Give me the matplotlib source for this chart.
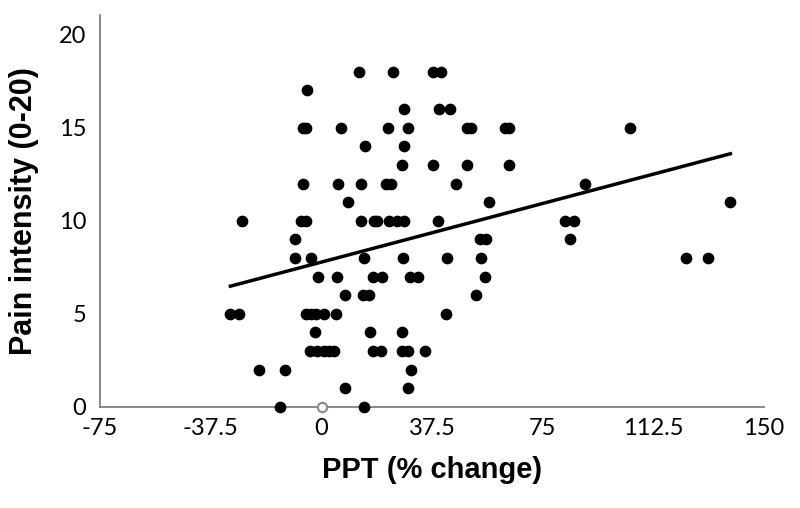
import matplotlib
matplotlib.use("Agg")
import matplotlib.pyplot as plt
import numpy as np

# PPT % change vs pain intensity
ppt = [12.8, 24.2, 37.9, 40.7,
       -4.8,
       27.9, 40.0, 43.5,
       -6.2, -5.2, 6.7, 22.7, 29.5, 49.2, 50.6, 62.4, 63.6, 104.6,
       14.9, 28.0,
       27.5, 37.7, 49.3, 63.6,
       -6.3, 5.7, 13.3, 22.0, 23.6, 45.6, 89.2,
       9.0, 56.7, 138.6,
       -27.0, -6.8, -5.3, 13.4, 17.7, 18.9, 22.8, 25.5, 27.9, 39.5, 82.5, 85.5,
       -8.8, 53.6, 55.9, 84.4,
       -9.0, -3.6, 14.6, 27.8, 42.7, 54.2, 123.6, 131.0,
       -1.0, 5.3, 17.4, 20.7, 30.1, 32.8, 55.3,
       8.0, 14.1, 16.0, 52.5,
       -30.8, -27.9, -5.1, -3.4, -1.8, 1.0, 4.9, 42.1,
       -2.1, 16.4, 27.2,
       -3.7, -1.3, 0.9, 2.5, 4.2, 17.4, 20.3, 27.4, 29.3, 35.0,
       -21.0, -12.3, 30.3,
       8.0, 29.4,
       -14.1, 14.3]
pain = ([18] * 4 + [17] + [16] * 3 + [15] * 10 + [14] * 2 + [13] * 4 +
        [12] * 7 + [11] * 3 + [10] * 12 + [9] * 4 + [8] * 8 + [7] * 7 +
        [6] * 4 + [5] * 8 + [4] * 3 + [3] * 10 + [2] * 3 + [1] * 2 + [0] * 2)

# the grey open point on the origin
open_x = [0.2]
open_y = [0]

# regression line as drawn
fit_slope = 0.042
fit_intercept = 7.78

xticks = [-75, -37.5, 0, 37.5, 75, 112.5, 150]
xticklabels = ["-75", "-37.5", "0", "37.5", "75", "112.5", "150"]
yticks = [0, 5, 10, 15, 20]

fig = plt.figure(figsize=(8, 5.08), dpi=100)
ax = fig.add_axes([0.125, 0.199, 0.83, 0.772])

ax.scatter(ppt, pain, s=55, color="black", zorder=3, clip_on=False)
ax.scatter(open_x, open_y, s=45, facecolor="white", edgecolor="#888888",
           linewidth=1.5, zorder=4, clip_on=False)

xs = np.array([min(ppt), max(ppt)])
ax.plot(xs, fit_intercept + fit_slope * xs, color="black", lw=2.5, zorder=2)

ax.set_xlim(-75, 150)
ax.set_ylim(0, 21.07)
ax.set_xticks(xticks)
ax.set_xticklabels(xticklabels)
ax.set_yticks(yticks)

for s in ["top", "right"]:
    ax.spines[s].set_visible(False)
for s in ["left", "bottom"]:
    ax.spines[s].set_color("#7f7f7f")
    ax.spines[s].set_linewidth(1.3)

ax.tick_params(axis="x", length=0, pad=8, labelsize=17)
ax.tick_params(axis="y", length=0, pad=10, labelsize=17)
for lab in ax.get_xticklabels() + ax.get_yticklabels():
    lab.set_family("Lato")

ax.set_xlabel("PPT (% change)", fontsize=21, fontweight="bold",
              family="Liberation Sans", labelpad=12)
ax.set_ylabel("Pain intensity (0-20)", fontsize=22, fontweight="bold",
              family="Liberation Sans", labelpad=14)

fig.savefig("out.png", dpi=100)
